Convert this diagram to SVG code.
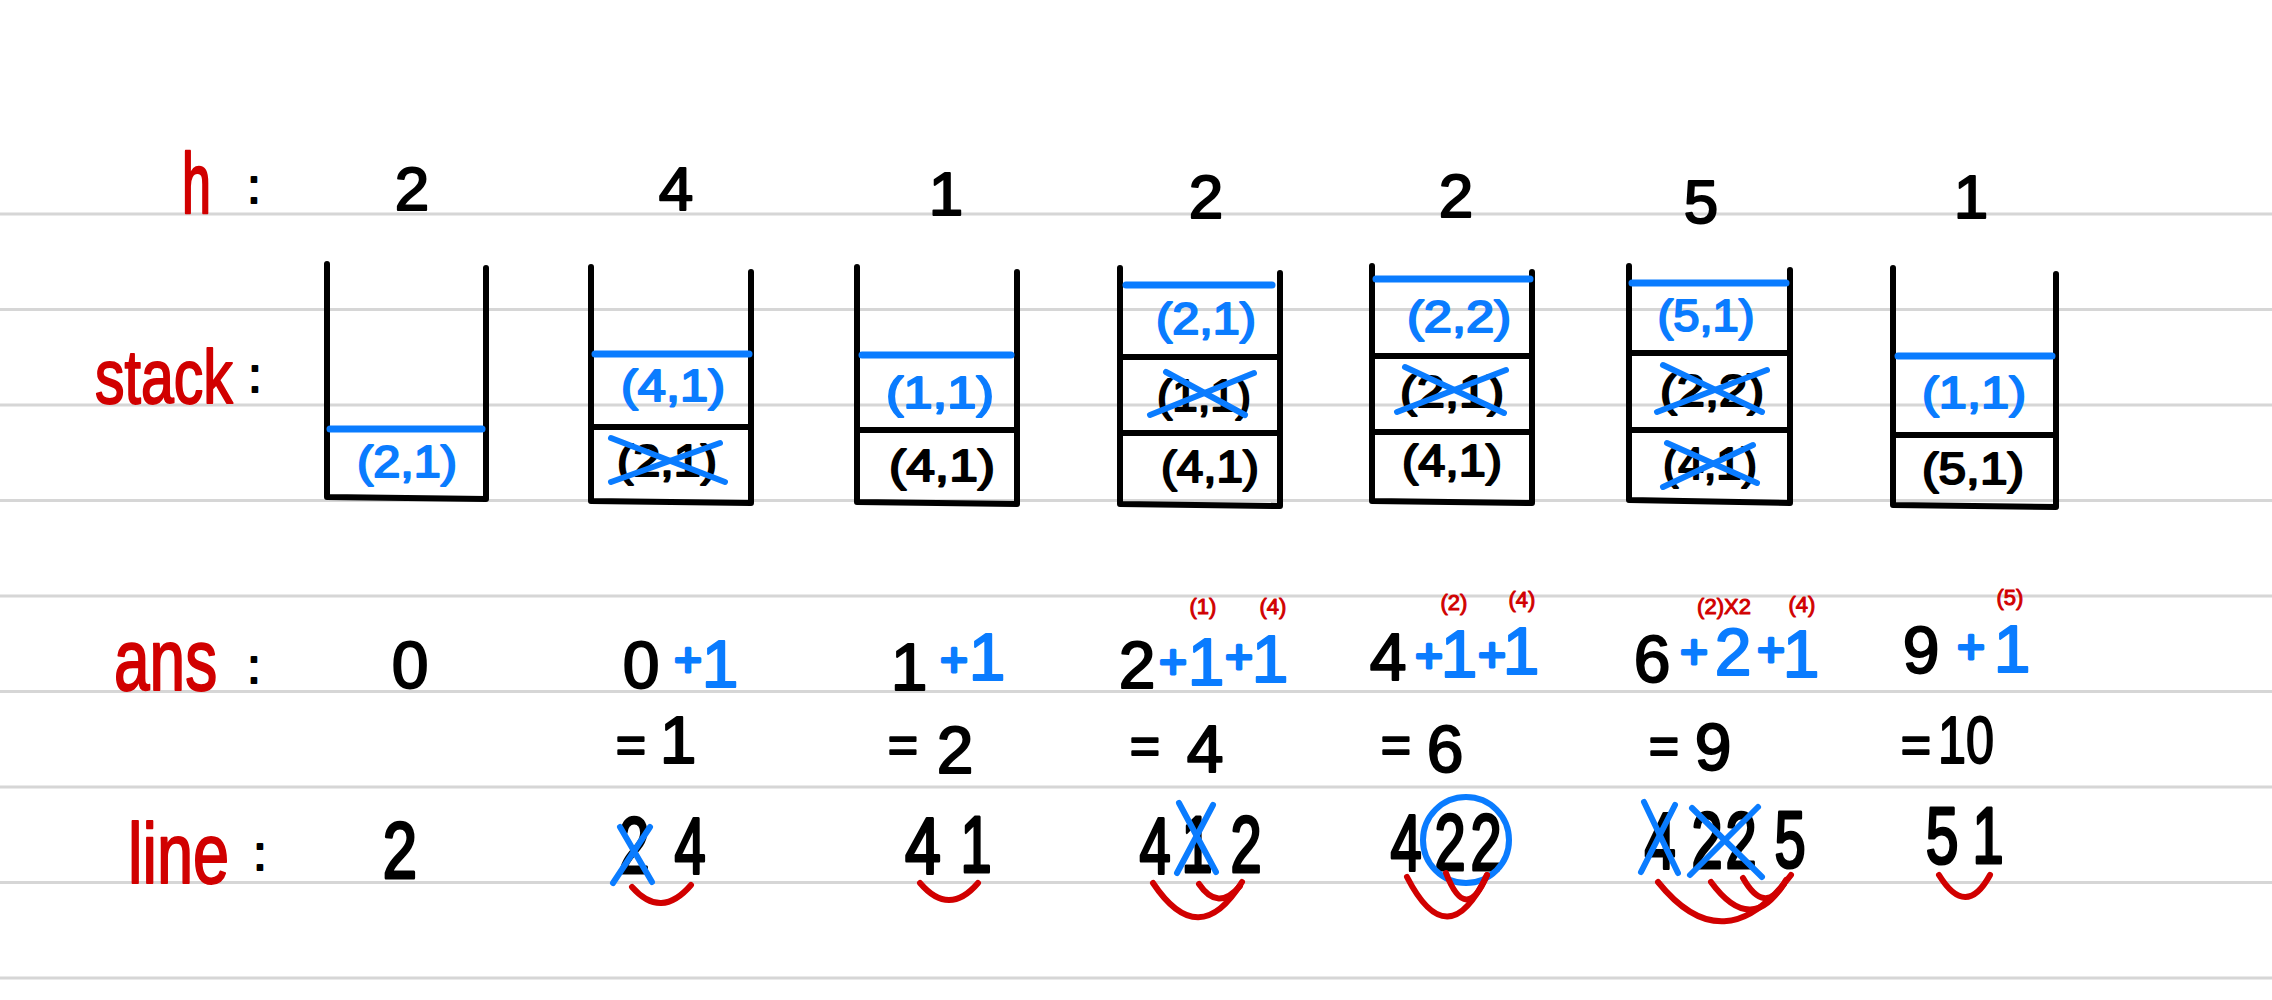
<svg xmlns="http://www.w3.org/2000/svg" width="2272" height="1000" viewBox="0 0 2272 1000">
<style>
.rule{stroke:#d6d6d6;stroke-width:3}
.wall{fill:none;stroke:#000;stroke-width:6;stroke-linecap:round;stroke-linejoin:round}
.top{stroke:#0a7cff;stroke-width:7;stroke-linecap:round}
.div{stroke:#000;stroke-width:6;stroke-linecap:round}
.x{stroke:#0a7cff;stroke-width:6;stroke-linecap:round}
.arc{fill:none;stroke:#d10000;stroke-width:6;stroke-linecap:round}
.ring{fill:none;stroke:#0a7cff;stroke-width:6}
text{font-family:"Liberation Sans",Arial,sans-serif;stroke-linejoin:round;text-anchor:middle}
.k{fill:#000;stroke:#000;stroke-width:2}
.b{fill:#0a7cff;stroke:#0a7cff;stroke-width:2}
.r{fill:#d10000;stroke:#d10000;stroke-width:2}
.lab{text-anchor:start;stroke-width:1.5}
.col{font-size:48px}
.t{font-size:44px}
.h{font-size:62px}
.a{font-size:66px}
.p{font-size:48px;stroke-width:3}
.e{font-size:52px}
.s{font-size:22px;stroke-width:1}
.l{font-size:56px;stroke-width:2.2}
</style>
<g id="rules">
<line class="rule" x1="0" y1="214" x2="2272" y2="214"/>
<line class="rule" x1="0" y1="309.5" x2="2272" y2="309.5"/>
<line class="rule" x1="0" y1="405" x2="2272" y2="405"/>
<line class="rule" x1="0" y1="500.5" x2="2272" y2="500.5"/>
<line class="rule" x1="0" y1="596" x2="2272" y2="596"/>
<line class="rule" x1="0" y1="691.5" x2="2272" y2="691.5"/>
<line class="rule" x1="0" y1="787" x2="2272" y2="787"/>
<line class="rule" x1="0" y1="882.5" x2="2272" y2="882.5"/>
<line class="rule" x1="0" y1="978" x2="2272" y2="978"/>
</g>
<g id="labels">
<text class="r lab" transform="translate(182,213) scale(1,1.65)" font-size="52">h</text>
<text class="k col" x="254" y="203">:</text>
<text class="r lab" transform="translate(95,403) scale(1,1.3)" font-size="59">stack</text>
<text class="k col" x="255" y="392">:</text>
<text class="r lab" transform="translate(114,690) scale(1,1.35)" font-size="64">ans</text>
<text class="k col" x="254" y="683">:</text>
<text class="r lab" transform="translate(128,883) scale(1,1.3)" font-size="65">line</text>
<text class="k col" x="260" y="870">:</text>
</g>
<g id="h-values">
<text class="k h" x="412" y="210">2</text>
<text class="k h" x="676" y="210">4</text>
<text class="k h" x="946" y="215">1</text>
<text class="k h" x="1206" y="218">2</text>
<text class="k h" x="1456" y="217">2</text>
<text class="k h" x="1701" y="223">5</text>
<text class="k h" x="1971" y="218">1</text>
</g>
<g id="stack1">
<path class="wall" d="M327,264 L327,497 L486,499 L486,268"/>
<line class="top" x1="330" y1="429" x2="482" y2="429"/>
<text class="b t" x="407" y="477" textLength="100" lengthAdjust="spacingAndGlyphs">(2,1)</text>
</g>
<g id="stack2">
<path class="wall" d="M591,267 L591,501 L751,503 L751,272"/>
<line class="top" x1="595" y1="354" x2="749" y2="354"/>
<line class="div" x1="591" y1="427" x2="749" y2="427"/>
<text class="b t" x="673" y="401" textLength="104" lengthAdjust="spacingAndGlyphs">(4,1)</text>
<text class="k t" x="667" y="476" textLength="100" lengthAdjust="spacingAndGlyphs">(2,1)</text>
<line class="x" x1="611" y1="438" x2="725" y2="482"/>
<line class="x" x1="720" y1="443" x2="611" y2="482"/>
</g>
<g id="stack3">
<path class="wall" d="M857,267 L857,502 L1017,504 L1017,272"/>
<line class="top" x1="862" y1="355" x2="1011" y2="355"/>
<line class="div" x1="857" y1="430" x2="1015" y2="430"/>
<text class="b t" x="940" y="408" textLength="108" lengthAdjust="spacingAndGlyphs">(1,1)</text>
<text class="k t" x="942" y="481" textLength="106" lengthAdjust="spacingAndGlyphs">(4,1)</text>
</g>
<g id="stack4">
<path class="wall" d="M1120,268 L1120,504 L1280,506 L1280,273"/>
<line class="top" x1="1126" y1="285" x2="1272" y2="285"/>
<line class="div" x1="1120" y1="357" x2="1278" y2="357"/>
<line class="div" x1="1120" y1="433" x2="1278" y2="433"/>
<text class="b t" x="1206" y="334" textLength="100" lengthAdjust="spacingAndGlyphs">(2,1)</text>
<text class="k t" x="1204" y="411" textLength="94" lengthAdjust="spacingAndGlyphs">(1,1)</text>
<line class="x" x1="1150" y1="415" x2="1254" y2="373"/>
<line class="x" x1="1166" y1="372" x2="1245" y2="415"/>
<text class="k t" x="1210" y="482" textLength="98" lengthAdjust="spacingAndGlyphs">(4,1)</text>
</g>
<g id="stack5">
<path class="wall" d="M1372,266 L1372,501 L1532,503 L1532,272"/>
<line class="top" x1="1376" y1="279" x2="1530" y2="279"/>
<line class="div" x1="1372" y1="356" x2="1530" y2="356"/>
<line class="div" x1="1372" y1="432" x2="1530" y2="432"/>
<text class="b t" x="1459" y="332" textLength="104" lengthAdjust="spacingAndGlyphs">(2,2)</text>
<text class="k t" x="1452" y="407" textLength="104" lengthAdjust="spacingAndGlyphs">(2,1)</text>
<line class="x" x1="1397" y1="412" x2="1506" y2="370"/>
<line class="x" x1="1405" y1="367" x2="1504" y2="413"/>
<text class="k t" x="1452" y="476" textLength="100" lengthAdjust="spacingAndGlyphs">(4,1)</text>
</g>
<g id="stack6">
<path class="wall" d="M1629,266 L1629,500 L1790,503 L1790,270"/>
<line class="top" x1="1632" y1="283" x2="1786" y2="283"/>
<line class="div" x1="1629" y1="353" x2="1788" y2="353"/>
<line class="div" x1="1629" y1="430" x2="1788" y2="430"/>
<text class="b t" x="1706" y="331" textLength="97" lengthAdjust="spacingAndGlyphs">(5,1)</text>
<text class="k t" x="1712" y="406" textLength="104" lengthAdjust="spacingAndGlyphs">(2,2)</text>
<line class="x" x1="1657" y1="412" x2="1767" y2="370"/>
<line class="x" x1="1663" y1="365" x2="1762" y2="412"/>
<text class="k t" x="1710" y="479" textLength="94" lengthAdjust="spacingAndGlyphs">(4,1)</text>
<line class="x" x1="1663" y1="487" x2="1753" y2="445"/>
<line class="x" x1="1667" y1="443" x2="1757" y2="483"/>
</g>
<g id="stack7">
<path class="wall" d="M1893,268 L1893,505 L2056,507 L2056,274"/>
<line class="top" x1="1898" y1="356" x2="2052" y2="356"/>
<line class="div" x1="1893" y1="435" x2="2054" y2="435"/>
<text class="b t" x="1974" y="408" textLength="104" lengthAdjust="spacingAndGlyphs">(1,1)</text>
<text class="k t" x="1973" y="484" textLength="102" lengthAdjust="spacingAndGlyphs">(5,1)</text>
</g>
<g id="ans1">
<text class="k a" x="410" y="688">0</text>
</g>
<g id="ans2">
<text class="k a" x="641" y="688">0</text>
<text class="b p" x="688" y="676">+</text>
<text class="b a" x="720" y="687">1</text>
<text class="k e" x="631" y="763">=</text>
<text class="k a" x="678" y="763">1</text>
</g>
<g id="ans3">
<text class="k a" x="909" y="690">1</text>
<text class="b p" x="954" y="676">+</text>
<text class="b a" x="987" y="680">1</text>
<text class="k e" x="903" y="763">=</text>
<text class="k a" x="955" y="773">2</text>
</g>
<g id="ans4">
<text class="k a" x="1137" y="688">2</text>
<text class="b p" x="1173" y="678">+</text>
<text class="b a" x="1206" y="685">1</text>
<text class="b p" x="1239" y="673">+</text>
<text class="b a" x="1270" y="682">1</text>
<text class="r s" x="1203" y="614">(1)</text>
<text class="r s" x="1273" y="614">(4)</text>
<text class="k e" x="1145" y="764">=</text>
<text class="k a" x="1205" y="772">4</text>
</g>
<g id="ans5">
<text class="k a" x="1388" y="680">4</text>
<text class="b p" x="1429" y="672">+</text>
<text class="b a" x="1459" y="677">1</text>
<text class="b p" x="1492" y="671">+</text>
<text class="b a" x="1521" y="674">1</text>
<text class="r s" x="1454" y="610">(2)</text>
<text class="r s" x="1522" y="607">(4)</text>
<text class="k e" x="1396" y="763">=</text>
<text class="k a" x="1445" y="772">6</text>
</g>
<g id="ans6">
<text class="k a" x="1652" y="682">6</text>
<text class="b p" x="1694" y="668">+</text>
<text class="b a" x="1733" y="675">2</text>
<text class="b p" x="1771" y="666">+</text>
<text class="b a" x="1801" y="677">1</text>
<text class="r s" x="1724" y="614">(2)X2</text>
<text class="r s" x="1802" y="612">(4)</text>
<text class="k e" x="1664" y="764">=</text>
<text class="k a" x="1713" y="770">9</text>
</g>
<g id="ans7">
<text class="k a" x="1921" y="673">9</text>
<text class="b p" x="1971" y="663">+</text>
<text class="b a" x="2012" y="672">1</text>
<text class="r s" x="2010" y="605">(5)</text>
<text class="k e" x="1916" y="763">=</text>
<text class="k a" x="1966" y="763" textLength="56" lengthAdjust="spacingAndGlyphs">10</text>
</g>
<g id="line1">
<text class="k l" transform="translate(400,878) scale(1.1,1.42)">2</text>
</g>
<g id="line2">
<text class="k l" transform="translate(634,873) scale(1,1.42)">2</text>
<text class="k l" transform="translate(690,873) scale(1,1.42)">4</text>
<line class="x" x1="620" y1="827" x2="652" y2="882"/>
<line class="x" x1="650" y1="827" x2="613" y2="883"/>
</g>
<g id="line3">
<text class="k l" transform="translate(923,873) scale(1.15,1.42)">4</text>
<text class="k l" transform="translate(976,872) scale(1,1.42)">1</text>
</g>
<g id="line4">
<text class="k l" transform="translate(1155,873) scale(1,1.42)">4</text>
<text class="k l" transform="translate(1197,872) scale(1,1.42)">1</text>
<text class="k l" transform="translate(1246,872) scale(1,1.42)">2</text>
<line class="x" x1="1179" y1="803" x2="1216" y2="872"/>
<line class="x" x1="1213" y1="805" x2="1177" y2="873"/>
</g>
<g id="line5">
<text class="k l" transform="translate(1406,870) scale(1,1.42)">4</text>
<text class="k l" transform="translate(1450,870) scale(1,1.42)">2</text>
<text class="k l" transform="translate(1486,870) scale(1,1.42)">2</text>
<circle class="ring" cx="1466" cy="840" r="43"/>
</g>
<g id="line6">
<text class="k l" transform="translate(1660,868) scale(1,1.42)">4</text>
<text class="k l" transform="translate(1707,868) scale(1,1.42)">2</text>
<text class="k l" transform="translate(1741,868) scale(1,1.42)">2</text>
<text class="k l" transform="translate(1790,867) scale(1,1.42)">5</text>
<line class="x" x1="1644" y1="802" x2="1678" y2="873"/>
<line class="x" x1="1675" y1="805" x2="1641" y2="872"/>
<line class="x" x1="1692" y1="808" x2="1762" y2="877"/>
<line class="x" x1="1758" y1="807" x2="1690" y2="875"/>
</g>
<g id="line7">
<text class="k l" transform="translate(1942,863) scale(1.05,1.42)">5</text>
<text class="k l" transform="translate(1988,863) scale(1,1.42)">1</text>
</g>
<g id="connectors">
<path class="arc" d="M632,887 Q661,920 691,885"/>
<path class="arc" d="M920,883 Q949,917 978,883"/>
<path class="arc" d="M1153,883 Q1199,952 1242,882"/>
<path class="arc" d="M1199,884 Q1218,912 1240,886"/>
<path class="arc" d="M1407,877 Q1448,957 1487,875"/>
<path class="arc" d="M1446,873 Q1466,925 1487,875"/>
<path class="arc" d="M1658,882 Q1724,964 1791,875"/>
<path class="arc" d="M1711,882 Q1752,938 1786,880"/>
<path class="arc" d="M1743,878 Q1764,915 1784,884"/>
<path class="arc" d="M1939,875 Q1966,919 1990,875"/>
</g>
</svg>
